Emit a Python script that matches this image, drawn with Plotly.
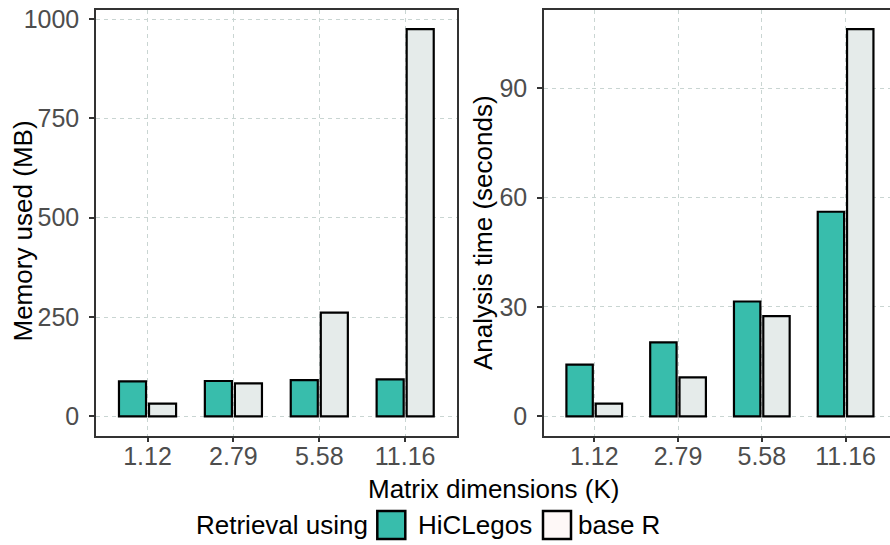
import plotly.graph_objects as go

# Matrix sizes (thousands of rows/cols) used as the shared x categories
dims = ["1.12", "2.79", "5.58", "11.16"]
series_names = ["HiCLegos", "base R"]

# Peak memory (MB) per retrieval method
memory_hiclegos = [88, 89, 91, 93]
memory_base_r = [32, 83, 261, 975]

# Wall-clock analysis time (seconds) per retrieval method
time_hiclegos = [14.2, 20.3, 31.5, 56.1]
time_base_r = [3.5, 10.7, 27.5, 106.2]

mem_ticks = [0, 250, 500, 750, 1000]
time_ticks = [0, 30, 60, 90]

W, H = 890, 545
TEAL = "#38BDAC"
GREYFILL = "#E5EBEA"
KEYFILL = "#FEF8F7"
FONT = "Liberation Sans, Arial, Helvetica, sans-serif"


def px(x):
    return x / W


def py(y):
    return 1 - y / H


fig = go.Figure()

bar_line = dict(color="black", width=2.2)
for vals, xa, ya in [
    ((memory_hiclegos, memory_base_r), "x", "y"),
    ((time_hiclegos, time_base_r), "x2", "y2"),
]:
    for name, v, col in zip(series_names, vals, [TEAL, GREYFILL]):
        fig.add_trace(go.Bar(
            x=dims, y=v, name=name, xaxis=xa, yaxis=ya,
            marker=dict(color=col, line=bar_line, opacity=1),
            showlegend=False,
        ))

grid = dict(showgrid=True, gridcolor="#C9D5D2", gridwidth=1, griddash="4px,4px",
            zeroline=False, automargin=False)
tickstyle = dict(ticks="outside", ticklen=5, tickwidth=1.5, tickcolor="#333333",
                 tickfont=dict(family=FONT, size=25, color="#4D4D4D"))
line = dict(showline=True, linecolor="#333333", linewidth=1.5)

y_dom = [py(435.7), py(9.7)]

fig.update_layout(
    template="simple_white",
    width=W, height=H, autosize=False,
    margin=dict(l=0, r=0, t=0, b=0, pad=0),
    paper_bgcolor="white", plot_bgcolor="white",
    barmode="group", bargap=0.3, bargroupgap=0.1,
    font=dict(family=FONT, color="black"),
    xaxis=dict(domain=[px(96), px(456.7)], type="category", range=[-0.6, 3.6],
               mirror=True, anchor="y", ticklabelstandoff=-7, **grid, **tickstyle, **line),
    yaxis=dict(domain=y_dom, range=[-48.75, 1023.75], tickvals=mem_ticks,
               mirror=True, anchor="x", ticklabelstandoff=5, **grid, **tickstyle, **line),
    xaxis2=dict(domain=[px(544), 1.0], type="category", range=[-0.6, 3.53],
                mirror=True, anchor="y2", ticklabelstandoff=-7, **grid, **tickstyle, **line),
    yaxis2=dict(domain=y_dom, range=[-5.3, 111.5], tickvals=time_ticks,
                mirror=False, anchor="x2", ticklabelstandoff=5, **grid, **tickstyle, **line),
    showlegend=False,
)

title_font = dict(family=FONT, size=26, color="black")
annotations = [
    dict(text="Memory used (MB)", x=px(22.5), y=py(231), textangle=-90),
    dict(text="Analysis time (seconds)", x=px(483), y=py(233), textangle=-90),
    dict(text="Matrix dimensions (K)", x=px(493), y=py(489)),
]
for a in annotations:
    fig.add_annotation(xref="paper", yref="paper", showarrow=False,
                       xanchor="center", yanchor="middle", font=title_font, **a)

# Legend row, laid out by hand beneath the x-axis title
leg_y = 525
fig.add_annotation(text="Retrieval using", xref="paper", yref="paper",
                   x=px(194), y=py(leg_y), xanchor="left", yanchor="middle",
                   showarrow=False, font=title_font)
keys = [(377.3, TEAL, series_names[0], 416), (543, KEYFILL, series_names[1], 576)]
for kx, fill, label, tx in keys:
    fig.add_shape(type="rect", xref="paper", yref="paper", opacity=1, layer="above",
                  x0=px(kx), x1=px(kx + 28), y0=py(leg_y - 14), y1=py(leg_y + 14),
                  fillcolor=fill, line=dict(color="black", width=2.5))
    fig.add_annotation(text=label, xref="paper", yref="paper",
                       x=px(tx), y=py(leg_y), xanchor="left", yanchor="middle",
                       showarrow=False, font=title_font)

fig.write_html("out.html")
